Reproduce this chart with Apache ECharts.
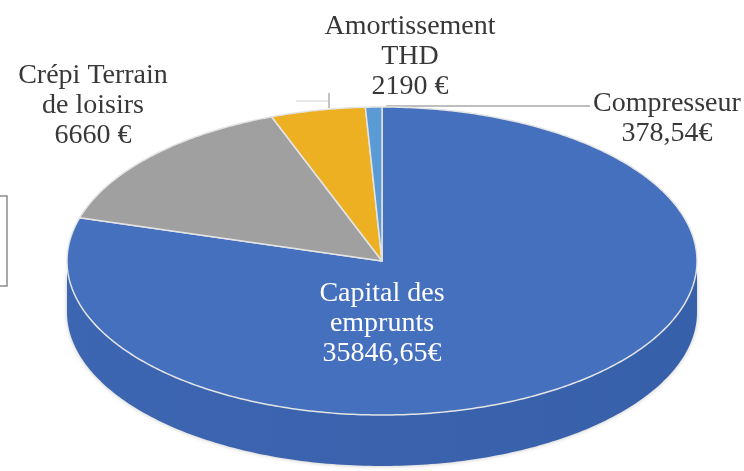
<!DOCTYPE html>
<html>
<head>
<meta charset="utf-8">
<script src="https://cdn.jsdelivr.net/npm/echarts@6/dist/echarts.min.js"></script>
<style>
  html, body { margin: 0; padding: 0; background: #fff; }
  #chartPie { width: 744px; height: 471px; }
</style>
</head>
<body>
<div id="chartPie"></div>
<script>
// data
var categories = ['Capital des\nemprunts', 'Crépi Terrain\nde loisirs', 'Amortissement\nTHD', 'Compresseur'];
var amounts = [35846.65, 6660, 2190, 378.54];

// look
var topColors = ['#4570be', '#a0a0a0', '#edb023', '#5b9bd5'];
var sideColors = ['#3a62ad', '#7f7f7f', '#c28f12', '#447fb8'];
var labelPos = [[382, 324], [93, 106], [410, 57], [667, 119]];
var labelColors = ['#ffffff', '#383838', '#383838', '#383838'];
var cx = 382, cy = 261, rx = 315, ry = 154, depth = 51;

function fmt(v) {
  if (Math.round(v) === v) return v + ' €';
  return v.toFixed(2).replace('.', ',') + '€';
}

function ellPt(t, dy) {
  return [cx + rx * Math.cos(t), cy + ry * Math.sin(t) + (dy || 0)];
}

function renderItem(params, api) {
  var i = params.dataIndex;
  var total = amounts.reduce(function (a, b) { return a + b; }, 0);
  var before = 0;
  for (var k = 0; k < i; k++) before += amounts[k];
  var a0 = -Math.PI / 2 + 2 * Math.PI * before / total;
  var a1 = a0 + 2 * Math.PI * api.value(0) / total;
  var children = [];

  // front side
  var s0 = Math.max(a0, 0), s1 = Math.min(a1, Math.PI);
  if (s1 > s0) {
    var n = Math.max(4, Math.ceil((s1 - s0) * 60));
    var pts = [];
    for (var j = 0; j <= n; j++) pts.push(ellPt(s0 + (s1 - s0) * j / n, 0));
    for (var j2 = n; j2 >= 0; j2--) pts.push(ellPt(s0 + (s1 - s0) * j2 / n, depth));
    children.push({
      type: 'polygon',
      z2: 1,
      shape: { points: pts },
      style: {
        fill: new echarts.graphic.LinearGradient(0, 0, 1, 0, [
          { offset: 0, color: '#3d66b2' },
          { offset: 0.5, color: sideColors[i] },
          { offset: 1, color: '#3760ab' }
        ]),
        shadowBlur: 4,
        shadowColor: 'rgba(0,0,0,0.25)'
      }
    });
  }

  // top face
  var m = Math.max(4, Math.ceil((a1 - a0) * 80));
  var top = [[cx, cy]];
  for (var q = 0; q <= m; q++) top.push(ellPt(a0 + (a1 - a0) * q / m, 0));
  children.push({
    type: 'polygon',
    z2: 2,
    shape: { points: top },
    style: { fill: topColors[i], stroke: '#e4e4e4', lineWidth: 1.5, lineJoin: 'round' }
  });

  // label
  children.push({
    type: 'text',
    z2: 5,
    style: {
      text: categories[i] + '\n' + fmt(api.value(0)),
      x: labelPos[i][0],
      y: labelPos[i][1],
      align: 'center',
      verticalAlign: 'middle',
      fontFamily: 'Liberation Serif',
      fontSize: 28,
      lineHeight: 30,
      fill: labelColors[i]
    }
  });

  return { type: 'group', children: children };
}

var chart = echarts.init(document.getElementById('chartPie'));
chart.setOption({
  animation: false,
  series: [{
    type: 'custom',
    coordinateSystem: 'none',
    renderItem: renderItem,
    data: amounts.map(function (v) { return [v]; })
  }],
  graphic: [
    { type: 'line', shape: { x1: 386, y1: 106, x2: 590, y2: 106 }, style: { stroke: '#a8a8a8', lineWidth: 1.5 } },
    { type: 'line', shape: { x1: 296, y1: 101, x2: 329, y2: 101 }, style: { stroke: '#d0d0d0', lineWidth: 1 } },
    { type: 'line', shape: { x1: 329, y1: 93, x2: 329, y2: 108 }, style: { stroke: '#b0b0b0', lineWidth: 1.5 } },
    { type: 'rect', shape: { x: -6, y: 196, width: 13, height: 90 }, style: { fill: 'none', stroke: '#8c8c8c', lineWidth: 1.5 } }
  ]
});
</script>
</body>
</html>
